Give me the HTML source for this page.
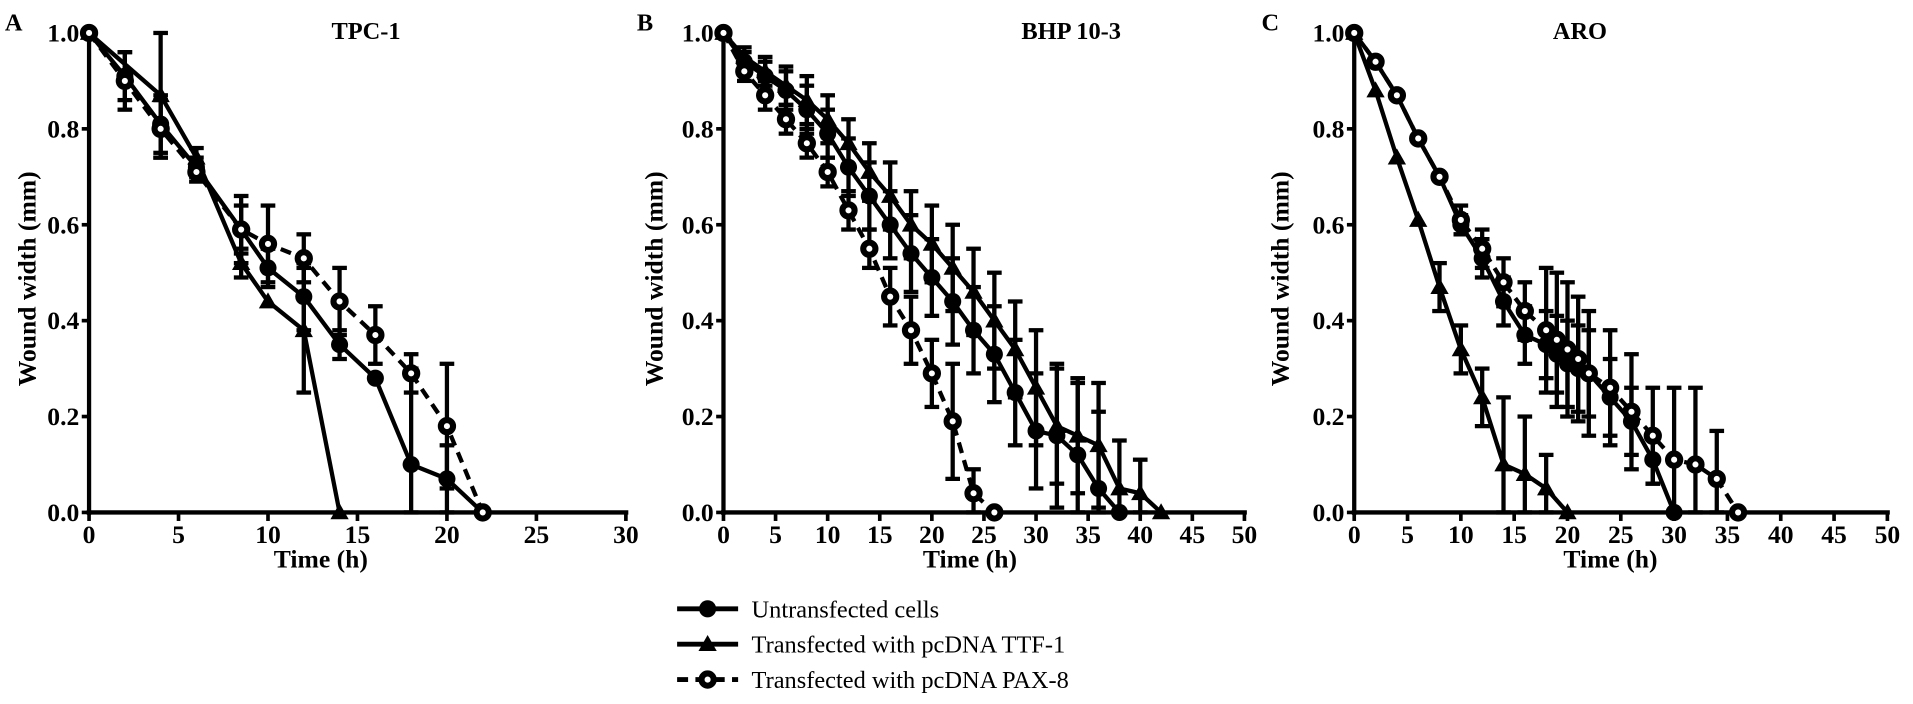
<!DOCTYPE html>
<html><head><meta charset="utf-8"><style>
html,body{margin:0;padding:0;background:#fff;}
svg{display:block;}
text{font-family:"Liberation Serif",serif;fill:#000;}
</style></head><body>
<svg id="fig" width="1913" height="704" viewBox="0 0 1568 577" xmlns="http://www.w3.org/2000/svg"></svg>
<script>
// ---- Data ----
const panelTitles = ["TPC-1", "BHP 10-3", "ARO"];
const panelLetters = ["A", "B", "C"];
const yTicks = [0.0, 0.2, 0.4, 0.6, 0.8, 1.0];
const xTicksA = [0, 5, 10, 15, 20, 25, 30];
const xTicksBC = [0, 5, 10, 15, 20, 25, 30, 35, 40, 45, 50];

// Panel A (TPC-1)
const aUntT = [0, 2, 4, 6, 8.5, 10, 12, 14, 16, 18, 20, 22];
const aUntV = [1.0, 0.91, 0.81, 0.72, 0.59, 0.51, 0.45, 0.35, 0.28, 0.10, 0.07, 0.0];
const aUntE = [0, 0.05, 0.06, 0.02, 0.05, 0.04, 0.07, 0.03, 0, 0.2, 0.07, 0];
const aTtfT = [0, 4, 6, 8.5, 10, 12, 14];
const aTtfV = [1.0, 0.87, 0.74, 0.52, 0.44, 0.38, 0.0];
const aTtfE = [0, 0.13, 0.02, 0.03, 0, 0.13, 0];
const aPaxT = [0, 2, 4, 6, 8.5, 10, 12, 14, 16, 18, 20, 22];
const aPaxV = [1.0, 0.90, 0.80, 0.71, 0.59, 0.56, 0.53, 0.44, 0.37, 0.29, 0.18, 0.0];
const aPaxE = [0, 0.06, 0.06, 0.02, 0.07, 0.08, 0.05, 0.07, 0.06, 0.04, 0.13, 0];

// Panel B (BHP 10-3)
const bUntT = [0, 2, 4, 6, 8, 10, 12, 14, 16, 18, 20, 22, 24, 26, 28, 30, 32, 34, 36, 38];
const bUntV = [1.0, 0.94, 0.91, 0.88, 0.84, 0.79, 0.72, 0.66, 0.60, 0.54, 0.49, 0.44, 0.38, 0.33, 0.25, 0.17, 0.16, 0.12, 0.05, 0.0];
const bUntE = [0, 0.02, 0.03, 0.04, 0.05, 0.05, 0.06, 0.07, 0.07, 0.08, 0.08, 0.09, 0.09, 0.1, 0.11, 0.12, 0.15, 0.15, 0.16, 0];
const bTtfT = [0, 2, 4, 6, 8, 10, 12, 14, 16, 18, 20, 22, 24, 26, 28, 30, 32, 34, 36, 38, 40, 42];
const bTtfV = [1.0, 0.95, 0.92, 0.89, 0.86, 0.82, 0.77, 0.71, 0.66, 0.60, 0.56, 0.51, 0.46, 0.40, 0.34, 0.26, 0.18, 0.16, 0.14, 0.05, 0.04, 0.0];
const bTtfE = [0, 0.02, 0.03, 0.04, 0.05, 0.05, 0.05, 0.06, 0.07, 0.07, 0.08, 0.09, 0.09, 0.1, 0.1, 0.12, 0.12, 0.12, 0.13, 0.1, 0.07, 0];
const bPaxT = [0, 2, 4, 6, 8, 10, 12, 14, 16, 18, 20, 22, 24, 26];
const bPaxV = [1.0, 0.92, 0.87, 0.82, 0.77, 0.71, 0.63, 0.55, 0.45, 0.38, 0.29, 0.19, 0.04, 0.0];
const bPaxE = [0, 0.02, 0.03, 0.03, 0.03, 0.03, 0.04, 0.04, 0.06, 0.07, 0.07, 0.12, 0.05, 0];

// Panel C (ARO)
const cUntT = [0, 2, 4, 6, 8, 10, 12, 14, 16, 18, 19, 20, 21, 22, 24, 26, 28, 30];
const cUntV = [1.0, 0.94, 0.87, 0.78, 0.70, 0.60, 0.53, 0.44, 0.37, 0.35, 0.33, 0.31, 0.30, 0.29, 0.24, 0.19, 0.11, 0.0];
const cUntE = [0, 0, 0, 0, 0, 0.02, 0.04, 0.05, 0.06, 0.07, 0.08, 0.09, 0.09, 0.09, 0.08, 0.07, 0.05, 0];
const cTtfT = [0, 2, 4, 6, 8, 10, 12, 14, 16, 18, 20];
const cTtfV = [1.0, 0.88, 0.74, 0.61, 0.47, 0.34, 0.24, 0.10, 0.08, 0.05, 0.0];
const cTtfE = [0, 0, 0, 0, 0.05, 0.05, 0.06, 0.14, 0.12, 0.07, 0];
const cPaxT = [0, 2, 4, 6, 8, 10, 12, 14, 16, 18, 19, 20, 21, 22, 24, 26, 28, 30, 32, 34, 36];
const cPaxV = [1.0, 0.94, 0.87, 0.78, 0.70, 0.61, 0.55, 0.48, 0.42, 0.38, 0.36, 0.34, 0.32, 0.29, 0.26, 0.21, 0.16, 0.11, 0.10, 0.07, 0.0];
const cPaxE = [0, 0, 0, 0, 0, 0.03, 0.04, 0.05, 0.06, 0.13, 0.14, 0.14, 0.13, 0.13, 0.12, 0.12, 0.1, 0.15, 0.16, 0.1, 0];

// ---- Drawing ----
const NS = "http://www.w3.org/2000/svg";
const svg = document.getElementById("fig");
function el(tag, attrs, parent) {
  const e = document.createElementNS(NS, tag);
  for (const k in attrs) e.setAttribute(k, attrs[k]);
  (parent || svg).appendChild(e);
  return e;
}
const Y0 = 420, Y1 = 27;
const panels = [
  {x0: 73, x1: 513, xmax: 30, ticks: xTicksA, titleX: 300, letterX: 4, ytC: 21, xtX: 263,
   series: [[aUntT, aUntV, aUntE], [aTtfT, aTtfV, aTtfE], [aPaxT, aPaxV, aPaxE]]},
  {x0: 593, x1: 1020, xmax: 50, ticks: xTicksBC, titleX: 878, letterX: 522, ytC: 535, xtX: 795,
   series: [[bUntT, bUntV, bUntE], [bTtfT, bTtfV, bTtfE], [bPaxT, bPaxV, bPaxE]]},
  {x0: 1110, x1: 1547, xmax: 50, ticks: xTicksBC, titleX: 1295, letterX: 1034, ytC: 1048, xtX: 1320,
   series: [[cUntT, cUntV, cUntE], [cTtfT, cTtfV, cTtfE], [cPaxT, cPaxV, cPaxE]]}
];
const yPx = v => Y0 - (Y0 - Y1) * v;

function marker(g, kind, x, y) {
  if (kind === 0) {
    const m = el("circle", {cx: x, cy: y, r: 7, fill: "#000"}, g);
    
    
  } else if (kind === 1) {
    const s = 7.5;
    const m = el("polygon", {points: `${x},${y-s} ${x-s},${y+s*0.75} ${x+s},${y+s*0.75}`, fill: "#000"}, g);
    
    
  } else {
    const m = el("circle", {cx: x, cy: y, r: 5, fill: "#fff", stroke: "#000", "stroke-width": 5}, g);
    
    
  }
}

panels.forEach((p, pi) => {
  const g = el("g", {});
  
  
  const xPx = t => p.x0 + (p.x1 - p.x0) * t / p.xmax;
  const ya = el("line", {x1: p.x0, y1: Y1, x2: p.x0, y2: Y0 + 2, stroke: "#000", "stroke-width": 3.5}, g);
  
  
  const xa = el("line", {x1: p.x0 - 2, y1: Y0, x2: p.x1 + 2, y2: Y0, stroke: "#000", "stroke-width": 3.5}, g);
  
  
  yTicks.forEach(v => {
    el("line", {x1: p.x0 - 6, y1: yPx(v), x2: p.x0, y2: yPx(v), stroke: "#000", "stroke-width": 3}, g);
    const t = el("text", {x: p.x0 - 8, y: yPx(v) + 7, "text-anchor": "end", "font-size": 21, "font-weight": "bold"}, g);
    t.textContent = v.toFixed(1);
    
    
  });
  p.ticks.forEach(v => {
    el("line", {x1: xPx(v), y1: Y0, x2: xPx(v), y2: Y0 + 7, stroke: "#000", "stroke-width": 3}, g);
    const t = el("text", {x: xPx(v), y: Y0 + 25, "text-anchor": "middle", "font-size": 21, "font-weight": "bold"}, g);
    t.textContent = v;
    
    
  });
  const xt = el("text", {x: p.xtX, y: Y0 + 45, "text-anchor": "middle", "font-size": 21, "font-weight": "bold"}, g);
  xt.textContent = "Time (h)";
  
  
  const yt = el("text", {x: 0, y: 0, transform: `translate(${p.ytC + 8},${(Y0 + Y1) / 2 + 5}) rotate(-90)`, "text-anchor": "middle", "font-size": 21, "font-weight": "bold"}, g);
  yt.textContent = "Wound width (mm)";
  
  
  const tt = el("text", {x: p.titleX, y: 32, "text-anchor": "middle", "font-size": 20, "font-weight": "bold"}, g);
  tt.textContent = panelTitles[pi];
  
  
  const lt = el("text", {x: p.letterX, y: 25, "font-size": 20, "font-weight": "bold"}, g);
  lt.textContent = panelLetters[pi];
  
  
  p.series.forEach((s, si) => {
    const [T, V, E] = s;
    const sg = el("g", {}, g);
    
    
    T.forEach((t, i) => {
      if (E[i] > 0) {
        const x = xPx(t), ya1 = yPx(Math.min(V[i] + E[i], 1)), ya2 = yPx(Math.max(V[i] - E[i], 0));
        el("line", {x1: x, y1: ya1, x2: x, y2: ya2, stroke: "#000", "stroke-width": 3.5}, sg);
        el("line", {x1: x - 6, y1: ya1, x2: x + 6, y2: ya1, stroke: "#000", "stroke-width": 3.5}, sg);
        el("line", {x1: x - 6, y1: ya2, x2: x + 6, y2: ya2, stroke: "#000", "stroke-width": 3.5}, sg);
      }
    });
    const pts = T.map((t, i) => xPx(t) + "," + yPx(V[i])).join(" ");
    const attrs = {points: pts, fill: "none", stroke: "#000", "stroke-width": 3.5, "stroke-linejoin": "round"};
    if (si === 2) attrs["stroke-dasharray"] = "9,6";
    const pl = el("polyline", attrs, sg);
    
    
    T.forEach((t, i) => marker(sg, si, xPx(t), yPx(V[i])));
  });
});

const legendLabels = ["Untransfected cells", "Transfected with pcDNA TTF-1", "Transfected with pcDNA PAX-8"];
const lg = el("g", {});


legendLabels.forEach((lab, i) => {
  const y = 499 + i * 29;
  const eg = el("g", {}, lg);
  
  
  const a = {x1: 555, y1: y, x2: 605, y2: y, stroke: "#000", "stroke-width": 4};
  if (i === 2) a["stroke-dasharray"] = "9,6";
  el("line", a, eg);
  marker(eg, i, 580, y);
  const t = el("text", {x: 616, y: y + 7, "font-size": 20}, eg);
  t.textContent = lab;
  
  
});
</script>
</body></html>
